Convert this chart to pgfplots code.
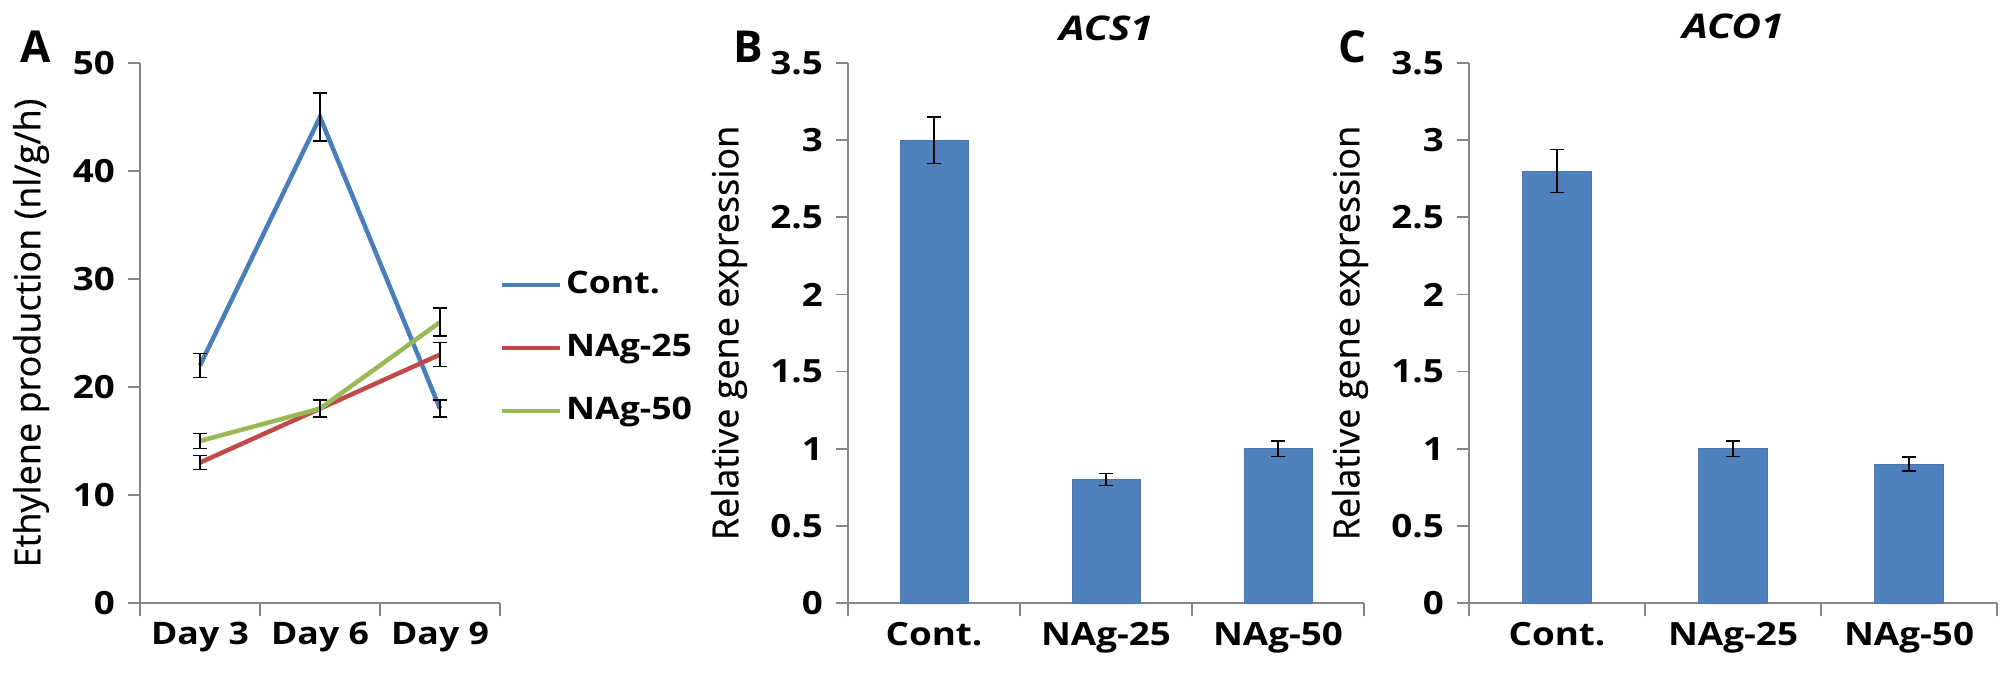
\documentclass[border=0pt]{standalone}
\usepackage{fontspec}
\setmainfont{Open Sans}[BoldFeatures={FakeStretch=1.15}, BoldItalicFeatures={FakeStretch=1.2}]
\newfontfamily\labelfont{Open Sans}[FakeBold=0.5]
\newfontfamily\letterfont{Open Sans}[BoldFeatures={FakeStretch=1.0}]
\usepackage{pgfplots}
\pgfplotsset{compat=1.18}
\definecolor{cblue}{HTML}{4A7EBB}
\definecolor{cred}{HTML}{BE4B48}
\definecolor{cgreen}{HTML}{98B954}
\definecolor{barblue}{HTML}{4F81BD}
\definecolor{axgray}{HTML}{868686}
\pgfplotsset{
  panel/.style={
    scale only axis, height=270pt,
    axis lines=left, axis line style={-, draw=axgray, line width=0.8pt},
    /pgf/number format/assume math mode=true,
    tick label style={font=\fontsize{16}{18}\selectfont\bfseries},
    yticklabel style={xshift=-3pt},
    tick align=outside, major tick length=6pt, minor tick length=6.5pt,
    ytick style={draw=axgray, line width=0.8pt},
    major x tick style={draw=none},
    minor x tick style={draw=axgray, line width=0.8pt},
    xmin=0.5, xmax=3.5, xtick={1,2,3}, minor xtick={0.5,1.5,2.5,3.5},
    ylabel style={font=\fontsize{18}{20}\selectfont\labelfont, anchor=center},
    clip=false,
  },
  ebar/.style={error bars/.cd, y dir=both, y explicit,
    error bar style={black, line width=0.75pt},
    error mark options={black, line width=0.75pt, mark size=3.7pt, rotate=90}},
}
\begin{document}
\begin{tikzpicture}
\path[use as bounding box] (0,0) rectangle (1003.5pt,343.5pt);
% Panel A
\begin{axis}[panel, at={(70pt,42pt)}, anchor=south west, width=180pt,
  ymin=0, ymax=50, ytick={0,10,20,30,40,50},
  xticklabels={Day 3, Day 6, Day 9},
  xticklabel style={font=\fontsize{15.5}{18}\selectfont\bfseries},
  ylabel={Ethylene production (nl/g/h)},
  ylabel style={at={(axis description cs:-0.3028,0.5)}},
  legend image code/.code={\draw[#1] (0pt,0pt) -- (29pt,0pt);},
  legend style={draw=none, fill=none, at={(axis description cs:0.998,0.472)}, anchor=west,
    inner sep=0pt, font=\fontsize{15.5}{18}\selectfont\bfseries,
    nodes={inner sep=0pt, text height=12pt, text depth=4pt},
    column sep=2pt, row sep=15.5pt},
  legend cell align=left]
\addplot[cblue, line width=2.25pt, forget plot, ebar] coordinates {
  (1,22) +- (0,1.1) (2,45) +- (0,2.2) (3,18) +- (0,0.8)};
\addplot[cred, line width=2.25pt, forget plot, ebar] coordinates {
  (1,13) +- (0,0.65) (2,18) +- (0,0.8) (3,23) +- (0,1.1)};
\addplot[cgreen, line width=2.25pt, forget plot, ebar] coordinates {
  (1,15) +- (0,0.7) (2,18) +- (0,0.8) (3,26) +- (0,1.3)};
\addlegendimage{cblue, line width=2.25pt}
\addlegendentry{Cont.}
\addlegendimage{cred, line width=2.25pt}
\addlegendentry{NAg-25}
\addlegendimage{cgreen, line width=2.25pt}
\addlegendentry{NAg-50}
\end{axis}
% Panel B
\begin{axis}[panel, at={(424pt,42pt)}, anchor=south west, width=258pt,
  ymin=0, ymax=3.5, ytick={0,0.5,1,1.5,2,2.5,3,3.5},
  xticklabels={Cont., NAg-25, NAg-50},
  ylabel={Relative gene expression},
  ylabel style={at={(axis description cs:-0.2306,0.5)}},
  title={\textit{ACS1}},
  title style={at={(axis description cs:0.5,1)}, anchor=base, yshift=5.5pt,
    font=\fontsize{17}{19}\selectfont\bfseries}]
\addplot[ybar, bar width=34pt, fill=barblue, draw=barblue!92!black, line width=0.5pt, ebar] coordinates {
  (1,3.0) +- (0,0.15) (2,0.8) +- (0,0.04) (3,1.0) +- (0,0.05)};
\end{axis}
% Panel C
\begin{axis}[panel, at={(734.5pt,42pt)}, anchor=south west, width=264pt,
  ymin=0, ymax=3.5, ytick={0,0.5,1,1.5,2,2.5,3,3.5},
  xticklabels={Cont., NAg-25, NAg-50},
  ylabel={Relative gene expression},
  ylabel style={at={(axis description cs:-0.2254,0.5)}},
  title={\textit{ACO1}},
  title style={at={(axis description cs:0.5,1)}, anchor=base, yshift=6.5pt,
    font=\fontsize{17}{19}\selectfont\bfseries}]
\addplot[ybar, bar width=34.5pt, fill=barblue, draw=barblue!92!black, line width=0.5pt, ebar] coordinates {
  (1,2.8) +- (0,0.14) (2,1.0) +- (0,0.05) (3,0.9) +- (0,0.045)};
\end{axis}
\node[anchor=base west, inner sep=0pt, font=\fontsize{22}{24}\letterfont\bfseries] at (10pt,312pt) {A};
\node[anchor=base west, inner sep=0pt, font=\fontsize{22}{24}\letterfont\bfseries] at (366.5pt,312pt) {B};
\node[anchor=base west, inner sep=0pt, font=\fontsize{22}{24}\letterfont\bfseries] at (669pt,312pt) {C};
\end{tikzpicture}
\end{document}
